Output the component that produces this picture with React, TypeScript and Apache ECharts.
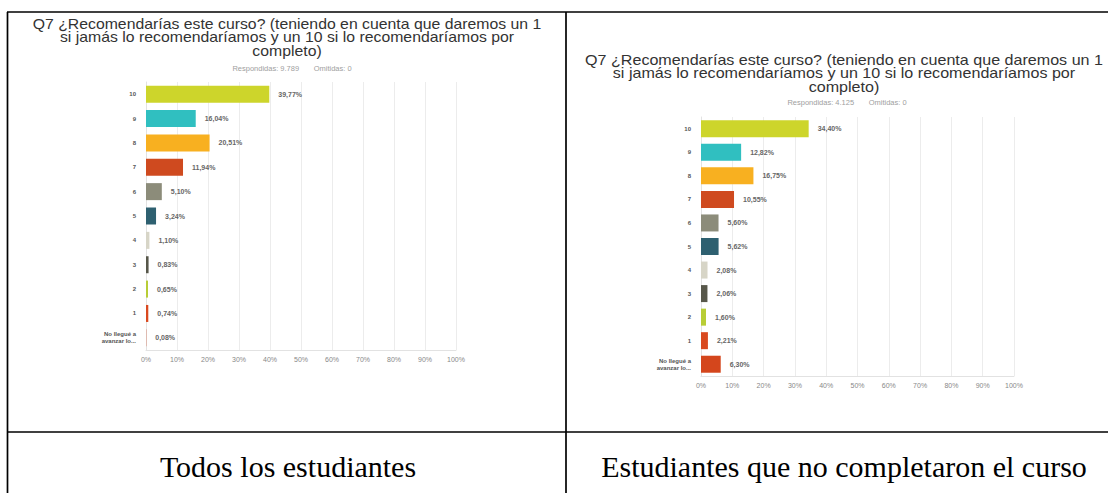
import React, { useEffect, useRef } from "react";
import * as echarts from "echarts";

const categories = ["10", "9", "8", "7", "6", "5", "4", "3", "2", "1", "No llegué a\navanzar lo..."];
const todosValues = [39.77, 16.04, 20.51, 11.94, 5.1, 3.24, 1.1, 0.83, 0.65, 0.74, 0.08];
const noCompletaronValues = [34.4, 12.82, 16.75, 10.55, 5.6, 5.62, 2.08, 2.06, 1.6, 2.21, 6.3];
const barColors = ["#cdd52b", "#30bfc0", "#f8b020", "#cf4a1f", "#8c8c7a", "#2e6070", "#d7d5c7", "#57574a", "#b8cd36", "#d9491f", "#d4461c"];
const xTicks = [0, 10, 20, 30, 40, 50, 60, 70, 80, 90, 100];
const titleText = "Q7 ¿Recomendarías este curso? (teniendo en cuenta que daremos un 1\nsi jamás lo recomendaríamos y un 10 si lo recomendaríamos por\ncompleto)";
const leftSubtitle = "Respondidas: 9.789       Omitidas: 0";
const rightSubtitle = "Respondidas: 4.125       Omitidas: 0";
const captions = ["Todos los estudiantes", "Estudiantes que no completaron el curso"];

const fmt = (v: number) => v.toFixed(2).replace(".", ",") + "%";

export default function App() {
  const ref = useRef<HTMLDivElement>(null);
  useEffect(() => {
    document.body.style.margin = "0";
    const chart = echarts.init(ref.current!, undefined, { renderer: "svg" });
    const sans = "Liberation Sans, Arial, sans-serif";
    const serif = "Liberation Serif, Times New Roman, serif";
    const mkX = (idx: number) => ({
      type: "value",
      gridIndex: idx,
      min: xTicks[0],
      max: xTicks[xTicks.length - 1],
      interval: 10,
      axisLine: { show: true, lineStyle: { color: "#e2e2e2" } },
      axisTick: { show: false },
      splitLine: { show: true, lineStyle: { color: "#ececec", width: 1 } },
      axisLabel: { formatter: "{value}%", fontSize: 7, color: "#888", fontFamily: sans, margin: 6 },
    });
    const mkY = (idx: number) => ({
      type: "category",
      gridIndex: idx,
      data: categories,
      inverse: true,
      axisLine: { show: true, lineStyle: { color: "#e2e2e2" } },
      axisTick: { show: false },
      axisLabel: { fontSize: 6, color: "#555", fontFamily: sans, margin: 10, lineHeight: 7, fontWeight: 600 },
    });
    const mkSeries = (idx: number, vals: number[]) => ({
      type: "bar",
      xAxisIndex: idx,
      yAxisIndex: idx,
      barWidth: 17,
      data: vals.map((v, i) => ({ value: v, itemStyle: { color: barColors[i] } })),
      label: {
        show: true,
        position: "right",
        distance: 9,
        fontSize: 7,
        color: "#666",
        fontFamily: sans,
        fontWeight: 600,
        formatter: (p: any) => fmt(p.value),
      },
    });
    const lineStyle = { stroke: "#000", lineWidth: 1.7 };
    const titleStyle = { text: titleText, font: `14px ${sans}`, fill: "#333", lineHeight: 13.5, align: "center", verticalAlign: "top", textAlign: "center", textVerticalAlign: "top" };
    const subStyle = { font: `7.5px ${sans}`, fill: "#a0a0a0", align: "center", verticalAlign: "middle", textAlign: "center", textVerticalAlign: "middle" };
    const capStyle = { font: `30px ${serif}`, fill: "#000", align: "center", verticalAlign: "middle", textAlign: "center", textVerticalAlign: "middle" };
    chart.setOption({
      animation: false,
      grid: [
        { left: 146, top: 82, width: 310, height: 268 },
        { left: 701, top: 117, width: 313, height: 259 },
      ],
      xAxis: [mkX(0), mkX(1)],
      yAxis: [mkY(0), mkY(1)],
      series: [mkSeries(0, todosValues), mkSeries(1, noCompletaronValues)],
      graphic: [
        { type: "line", shape: { x1: 7, y1: 12, x2: 1108, y2: 12 }, style: lineStyle },
        { type: "line", shape: { x1: 7.5, y1: 12, x2: 7.5, y2: 493 }, style: lineStyle },
        { type: "line", shape: { x1: 566, y1: 12, x2: 566, y2: 493 }, style: lineStyle },
        { type: "line", shape: { x1: 7, y1: 432, x2: 1108, y2: 432 }, style: lineStyle },
        { type: "text", x: 287, y: 17, scaleX: 1.13, style: titleStyle },
        { type: "text", x: 844, y: 53, scaleX: 1.15, style: titleStyle },
        { type: "text", x: 292, y: 68, style: { ...subStyle, text: leftSubtitle } },
        { type: "text", x: 847, y: 102, style: { ...subStyle, text: rightSubtitle } },
        { type: "text", x: 288, y: 466, style: { ...capStyle, text: captions[0] } },
        { type: "text", x: 844, y: 466, style: { ...capStyle, text: captions[1] } },
      ],
    });
    return () => chart.dispose();
  }, []);
  return <div ref={ref} style={{ position: "absolute", left: 0, top: 0, width: 1108, height: 493, background: "#fff" }} />;
}
